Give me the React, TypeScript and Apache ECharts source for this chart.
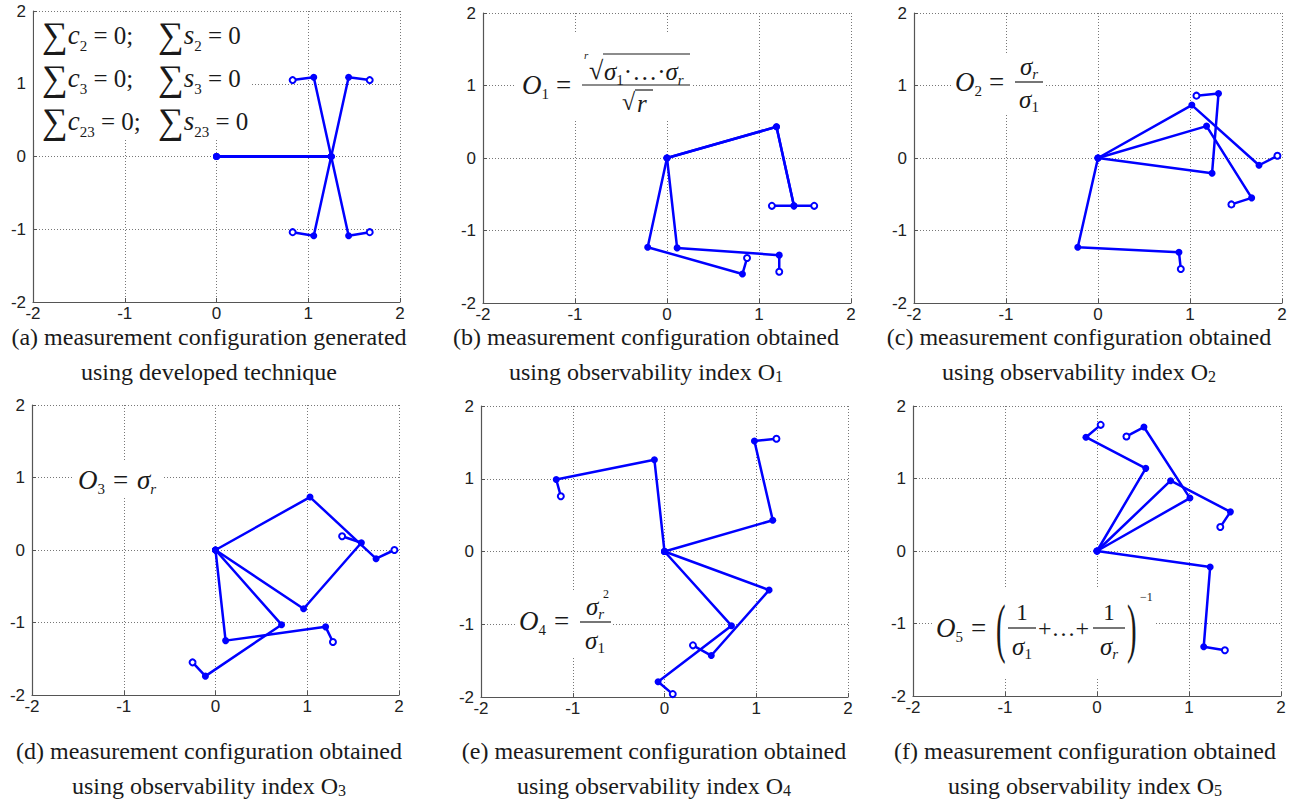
import React, { useEffect, useRef } from "react";
import * as echarts from "echarts";

// ---------- data ----------
const tickValues = [-2, -1, 0, 1, 2];

// each chain: base -> joint 1 -> joint 2 -> end point
const chainsA = [
  [[0, 0], [1.25, 0], [1.06, 1.09], [0.83, 1.05]],
  [[0, 0], [1.25, 0], [1.44, 1.09], [1.67, 1.05]],
  [[0, 0], [1.25, 0], [1.06, -1.09], [0.83, -1.04]],
  [[0, 0], [1.25, 0], [1.44, -1.09], [1.67, -1.04]],
];
const chainsB = [
  [[0, 0], [1.19, 0.43], [1.38, -0.66], [1.14, -0.66]],
  [[0, 0], [1.19, 0.43], [1.38, -0.66], [1.6, -0.66]],
  [[0, 0], [-0.21, -1.23], [0.82, -1.6], [0.87, -1.38]],
  [[0, 0], [0.11, -1.24], [1.22, -1.34], [1.22, -1.57]],
];
const chainsC = [
  [[0, 0], [1.02, 0.73], [1.75, -0.1], [1.95, 0.03]],
  [[0, 0], [1.18, 0.44], [1.67, -0.55], [1.45, -0.64]],
  [[0, 0], [1.24, -0.21], [1.31, 0.89], [1.07, 0.86]],
  [[0, 0], [-0.22, -1.23], [0.88, -1.3], [0.9, -1.53]],
];
const chainsD = [
  [[0, 0], [1.03, 0.73], [1.75, -0.12], [1.95, 0.0]],
  [[0, 0], [0.96, -0.81], [1.59, 0.1], [1.38, 0.19]],
  [[0, 0], [0.11, -1.25], [1.2, -1.06], [1.28, -1.27]],
  [[0, 0], [0.72, -1.03], [-0.11, -1.74], [-0.25, -1.55]],
];
const chainsE = [
  [[0, 0], [-0.11, 1.26], [-1.18, 0.99], [-1.13, 0.76]],
  [[0, 0], [1.18, 0.43], [0.98, 1.52], [1.22, 1.55]],
  [[0, 0], [1.14, -0.53], [0.51, -1.43], [0.31, -1.29]],
  [[0, 0], [0.73, -1.02], [-0.07, -1.79], [0.09, -1.96]],
];
const chainsF = [
  [[0, 0], [0.53, 1.14], [-0.12, 1.57], [0.04, 1.74]],
  [[0, 0], [0.8, 0.97], [1.45, 0.54], [1.34, 0.33]],
  [[0, 0], [1.01, 0.73], [0.51, 1.71], [0.32, 1.58]],
  [[0, 0], [1.23, -0.22], [1.16, -1.32], [1.39, -1.37]],
];
const allChains = [chainsA, chainsB, chainsC, chainsD, chainsE, chainsF];

const captionTitles = [
  "(a) measurement configuration generated",
  "(b) measurement configuration obtained",
  "(c) measurement configuration obtained",
  "(d) measurement configuration obtained",
  "(e) measurement configuration obtained",
  "(f) measurement configuration obtained",
];
const captionSubs = [
  "using developed technique",
  "using observability index O{b|1}",
  "using observability index O{b|2}",
  "using observability index O{b|3}",
  "using observability index O{b|4}",
  "using observability index O{b|5}",
];

// ---------- layout ----------
const gridBoxes = [
  { left: 33, top: 11, width: 367, height: 291 },
  { left: 483, top: 13, width: 368, height: 290 },
  { left: 914, top: 13, width: 368, height: 290 },
  { left: 32, top: 405, width: 367, height: 290 },
  { left: 481, top: 406, width: 367, height: 291 },
  { left: 913, top: 406, width: 368, height: 290 },
];
const captionX = [209, 646, 1079, 209, 654, 1085];
const captionY = [337, 337, 337, 751, 751, 751];

const SERIF = "'Liberation Serif','Times New Roman',Times,serif";
const SANS = "'Liberation Sans',Arial,Helvetica,sans-serif";
const INK = "#1a1a1a";
const BLUE = "#0000ff";

const richF: any = {
  i: { fontFamily: SERIF, fontStyle: "italic", fontSize: 27, lineHeight: 32, fill: INK },
  s: { fontFamily: SERIF, fontStyle: "italic", fontSize: 25, lineHeight: 30, fill: INK },
  n: { fontFamily: SERIF, fontSize: 25, lineHeight: 32, fill: INK },
  S: { fontFamily: SERIF, fontSize: 36, lineHeight: 36, fill: INK },
  b: { fontFamily: SERIF, fontSize: 15, lineHeight: 15, verticalAlign: "bottom", fill: INK },
  bi: { fontFamily: SERIF, fontStyle: "italic", fontSize: 15, lineHeight: 15, verticalAlign: "bottom", fill: INK },
};

function txt(x: number, y: number, text: string, size: number, o: any = {}) {
  const align = o.align || "left";
  return {
    type: "text",
    x,
    y,
    z: 11,
    silent: true,
    scaleX: o.scaleX || 1,
    scaleY: o.scaleY || 1,
    style: {
      text,
      fontFamily: SERIF,
      fontSize: size,
      fontStyle: o.italic ? "italic" : "normal",
      fill: INK,
      textAlign: align,
      align,
      textVerticalAlign: "middle",
      verticalAlign: "middle",
      rich: o.rich,
    },
  };
}
function bar(x1: number, y: number, x2: number) {
  return {
    type: "line",
    z: 11,
    silent: true,
    shape: { x1, y1: y, x2, y2: y },
    style: { stroke: INK, lineWidth: 1.2 },
  };
}
function box(x: number, y: number, w: number, h: number) {
  return {
    type: "rect",
    z: 10,
    silent: true,
    shape: { x, y, width: w, height: h },
    style: { fill: "#ffffff" },
  };
}

function buildGraphics() {
  const g: any[] = [];
  // white boxes behind formulas
  g.push(box(34, 14, 218, 126));
  g.push(box(515, 33, 178, 86));
  g.push(box(952, 55, 92, 60));
  g.push(box(72, 462, 92, 34));
  g.push(box(517, 590, 96, 67));
  g.push(box(934, 587, 220, 90));

  // (a) sums
  const subsA = ["2", "3", "23"];
  const rowY = [35, 78, 121];
  subsA.forEach((s, k) => {
    g.push(txt(42, rowY[k], `{S|∑}{i|c}{b|${s}}{n| = 0;}`, 25, { rich: richF }));
    g.push(txt(158, rowY[k], `{S|∑}{i|s}{b|${s}}{n| = 0}`, 25, { rich: richF }));
  });

  // (b) O1
  g.push(txt(522, 85, "{i|O}{b|1}", 27, { rich: richF }));
  g.push(txt(556, 85, "=", 27));
  g.push(bar(582, 85, 690));
  g.push(txt(584, 55, "r", 11, { italic: true }));
  g.push(txt(589, 70, "√", 26));
  g.push(bar(603, 54, 690));
  g.push(txt(604, 71, "{s|σ}{b|1}{n|·…·}{s|σ}{bi|r}", 25, { rich: richF }));
  g.push(txt(622, 102, "√", 24));
  g.push(bar(635, 90, 653));
  g.push(txt(637, 103, "r", 25, { italic: true }));

  // (c) O2
  g.push(txt(955, 82, "{i|O}{b|2}", 27, { rich: richF }));
  g.push(txt(989, 82, "=", 27));
  g.push(bar(1015, 82, 1043));
  g.push(txt(1029, 66, "{s|σ}{bi|r}", 25, { rich: richF, align: "center" }));
  g.push(txt(1029, 99, "{s|σ}{b|1}", 25, { rich: richF, align: "center" }));

  // (d) O3
  g.push(txt(78, 480, "{i|O}{b|3}", 27, { rich: richF }));
  g.push(txt(113, 480, "=", 27));
  g.push(txt(137, 480, "{i|σ}{bi|r}", 27, { rich: richF }));

  // (e) O4
  g.push(txt(519, 621, "{i|O}{b|4}", 27, { rich: richF }));
  g.push(txt(554, 621, "=", 27));
  g.push(bar(580, 622, 611));
  g.push(txt(595, 606, "{s|σ}{bi|r}", 25, { rich: richF, align: "center" }));
  g.push(txt(603, 594, "2", 12));
  g.push(txt(595, 640, "{s|σ}{b|1}", 25, { rich: richF, align: "center" }));

  // (f) O5
  g.push(txt(936, 628, "{i|O}{b|5}", 27, { rich: richF }));
  g.push(txt(971, 628, "=", 27));
  g.push(txt(996, 628, "(", 36, { scaleY: 1.8, scaleX: 0.8 }));
  g.push(bar(1008, 628, 1036));
  g.push(txt(1022, 612, "1", 23, { align: "center" }));
  g.push(txt(1022, 646, "{s|σ}{b|1}", 25, { rich: richF, align: "center" }));
  g.push(txt(1038, 628, "+…+", 24));
  g.push(bar(1093, 628, 1125));
  g.push(txt(1109, 612, "1", 23, { align: "center" }));
  g.push(txt(1109, 646, "{s|σ}{bi|r}", 25, { rich: richF, align: "center" }));
  g.push(txt(1127, 628, ")", 36, { scaleY: 1.8, scaleX: 0.8 }));
  g.push(txt(1140, 597, "−1", 12));

  // captions
  const richC: any = {
    b: { fontFamily: SERIF, fontSize: 16, lineHeight: 16, verticalAlign: "bottom", fill: INK },
  };
  captionTitles.forEach((t, k) => {
    g.push(txt(captionX[k], captionY[k], t, 24, { align: "center" }));
    g.push(txt(captionX[k], captionY[k] + 35, captionSubs[k], 24, { align: "center", rich: richC }));
  });
  return g;
}

export default function App() {
  const ref = useRef<HTMLDivElement>(null);
  useEffect(() => {
    const chart = echarts.init(ref.current as HTMLDivElement, null, { renderer: "svg" });
    const grid = gridBoxes.map((b) => ({ ...b, containLabel: false }));
    const axisCommon = {
      type: "value",
      min: tickValues[0],
      max: tickValues[tickValues.length - 1],
      interval: 1,
      axisLine: { show: true, onZero: false, lineStyle: { color: "#555", width: 1.2 } },
      axisTick: { show: true, inside: true, length: 4, lineStyle: { color: "#555" } },
      splitLine: { show: true, lineStyle: { color: "#777", width: 1, type: [1, 2] } },
      axisLabel: { color: "#222", fontFamily: SANS, fontSize: 17 },
    };
    const xAxis = gridBoxes.map((_, k) => ({
      ...axisCommon,
      gridIndex: k,
      axisLabel: { ...axisCommon.axisLabel, margin: 3 },
    }));
    const yAxis = gridBoxes.map((_, k) => ({
      ...axisCommon,
      gridIndex: k,
      axisLabel: { ...axisCommon.axisLabel, margin: 7 },
    }));
    const series: any[] = [];
    allChains.forEach((chains, k) => {
      chains.forEach((chain) => {
        series.push({
          type: "line",
          xAxisIndex: k,
          yAxisIndex: k,
          silent: true,
          clip: false,
          z: 2,
          symbol: "circle",
          symbolSize: 7,
          lineStyle: { color: BLUE, width: 2.5 },
          itemStyle: { color: BLUE },
          data: chain.map((p, i) =>
            i === chain.length - 1 ? { value: p, symbol: "emptyCircle", symbolSize: 6 } : p
          ),
        });
      });
    });
    chart.setOption({
      animation: false,
      backgroundColor: "#ffffff",
      grid,
      xAxis,
      yAxis,
      series,
      graphic: { elements: buildGraphics() },
    });
    return () => chart.dispose();
  }, []);
  return (
    <div
      ref={ref}
      style={{ position: "absolute", left: 0, top: 0, width: 1305, height: 800, background: "#fff" }}
    />
  );
}
